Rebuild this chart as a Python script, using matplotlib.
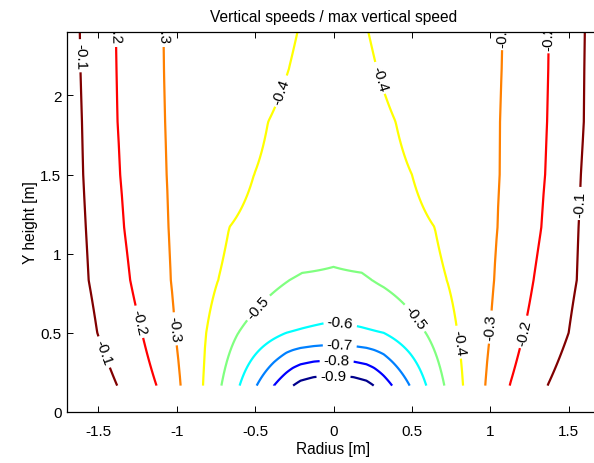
import numpy as np
import matplotlib
matplotlib.use("Agg")
import matplotlib.pyplot as plt

# ---- data: vertical speed / max vertical speed, read per height row ----
# heights of the data rows [m]
heights = [0.1667, 0.5, 0.8333, 1.1667, 1.5, 1.8333, 2.1667, 2.5]

# radial positions [m] and values along each row (contour crossings)
r_h0 = [-1.7, -1.38, -1.129, -0.975, -0.832, -0.715, -0.599, -0.49, -0.38, -0.258, -0.21, -0.125,
        0.0, 0.125, 0.21, 0.257, 0.374, 0.486, 0.592, 0.707, 0.826, 0.968, 1.123, 1.365, 1.7]
v_h0 = [0.0, -0.1, -0.2, -0.3, -0.4, -0.5, -0.6, -0.7, -0.8, -0.9, -0.93, -0.955,
        -0.964, -0.955, -0.93, -0.9, -0.8, -0.7, -0.6, -0.5, -0.4, -0.3, -0.2, -0.1, 0.0]

r_h1 = [-1.7, -1.507, -1.222, -1.01, -0.812, -0.607, -0.302, 0.0, 0.32, 0.588, 0.791, 1.0, 1.213, 1.5, 1.7]
v_h1 = [-0.02, -0.1, -0.2, -0.3, -0.4, -0.5, -0.6, -0.625, -0.6, -0.5, -0.4, -0.3, -0.2, -0.1, -0.02]

r_h2 = [-1.7, -1.562, -1.297, -1.038, -0.736, -0.28, -0.2, 0.0, 0.18, 0.245, 0.723, 1.025, 1.276, 1.552, 1.7]
v_h2 = [-0.04, -0.1, -0.2, -0.3, -0.4, -0.5, -0.508, -0.51, -0.508, -0.5, -0.4, -0.3, -0.2, -0.1, -0.04]

r_h3 = [-1.7, -1.58, -1.336, -1.053, -0.665, 0.0, 0.645, 1.047, 1.326, 1.563, 1.7]
v_h3 = [-0.05, -0.1, -0.2, -0.3, -0.4, -0.47, -0.4, -0.3, -0.2, -0.1, -0.05]

r_h4 = [-1.7, -1.597, -1.361, -1.066, -0.507, 0.0, 0.5, 1.06, 1.35, 1.578, 1.7]
v_h4 = [-0.05, -0.1, -0.2, -0.3, -0.4, -0.45, -0.4, -0.3, -0.2, -0.1, -0.05]

r_h5 = [-1.7, -1.605, -1.378, -1.076, -0.417, 0.0, 0.396, 1.064, 1.363, 1.597, 1.7]
v_h5 = [-0.05, -0.1, -0.2, -0.3, -0.4, -0.44, -0.4, -0.3, -0.2, -0.1, -0.05]

r_h6 = [-1.7, -1.615, -1.385, -1.083, -0.285, 0.0, 0.277, 1.075, 1.37, 1.60, 1.7]
v_h6 = [-0.05, -0.1, -0.2, -0.3, -0.4, -0.43, -0.4, -0.3, -0.2, -0.1, -0.05]

r_h7 = [-1.7, -1.62, -1.39, -1.088, -0.208, 0.0, 0.2, 1.08, 1.375, 1.605, 1.7]
v_h7 = [-0.05, -0.1, -0.2, -0.3, -0.4, -0.42, -0.4, -0.3, -0.2, -0.1, -0.05]

levels = [-0.9, -0.8, -0.7, -0.6, -0.5, -0.4, -0.3, -0.2, -0.1]
xticks = [-1.5, -1, -0.5, 0, 0.5, 1, 1.5]
yticks = [0, 0.5, 1, 1.5, 2]

# MATLAB-jet colours of the levels (style)
level_colors = [(0, 0, 0.55), (0, 0, 1), (0, 0.5, 1), (0, 1, 1), (0.5, 1, 0.5),
                (1, 1, 0), (1, 0.5, 0), (1, 0, 0), (0.5, 0, 0)]

# label anchor points (layout)
label_pos = [(-1.46, 0.38), (-1.238, 0.57), (-1.013, 0.525), (-0.47, 0.65),
             (0.045, 0.574), (0.04, 0.424), (0.02, 0.325), (0.0, 0.23),
             (0.512, 0.589), (0.798, 0.441), (1.004, 0.536), (1.223, 0.504),
             (1.594, 1.316), (-0.316, 2.02), (0.289, 2.108), (-1.62, 2.25),
             (-1.39, 2.41), (-1.087, 2.41), (1.08, 2.39), (1.375, 2.37)]

# ---- build grid table for the contour routine ----
rows_r = [r_h0, r_h1, r_h2, r_h3, r_h4, r_h5, r_h6, r_h7]
rows_v = [v_h0, v_h1, v_h2, v_h3, v_h4, v_h5, v_h6, v_h7]
xg = np.linspace(-1.7, 1.7, 341)
Z = np.array([np.interp(xg, rr, vv) for rr, vv in zip(rows_r, rows_v)])

plt.rcParams['font.family'] = ['Liberation Sans', 'DejaVu Sans']
plt.rcParams['axes.unicode_minus'] = False

W, H = 594, 464
fig = plt.figure(figsize=(W / 100, H / 100), dpi=100)
ax = fig.add_axes([67 / W, (H - 413) / H, (600 - 67) / W, 380 / H])

cs = ax.contour(xg, heights, Z, levels=levels, colors=level_colors, linewidths=1.6)
ax.clabel(cs, inline=True, fmt='%g', fontsize=11, manual=label_pos,
          inline_spacing=4, colors='black')
for t in cs.labelTexts:
    t.set_clip_on(True)
    t.set_clip_path(ax.patch)

ax.set_xlim(-1.7, 1.7)
ax.set_ylim(0, 2.4)
ax.set_xticks(xticks)
ax.set_yticks(yticks)
ax.set_xticklabels(['%g' % v for v in xticks])
ax.set_yticklabels(['%g' % v for v in yticks])
ax.tick_params(direction='in', length=4, width=0.7, top=True, right=True,
               labelsize=11, colors='black')
ax.tick_params(axis='x', pad=9)
ax.tick_params(axis='y', pad=4)
for s in ax.spines.values():
    s.set_linewidth(0.9)

ax.set_title('Vertical speeds / max vertical speed', fontsize=11.2, pad=8)
ax.set_xlabel('Radius [m]', fontsize=11.2, labelpad=2)
ax.set_ylabel('Y height [m]', fontsize=11.2, labelpad=1.5)

fig.savefig('out.png', dpi=100)
